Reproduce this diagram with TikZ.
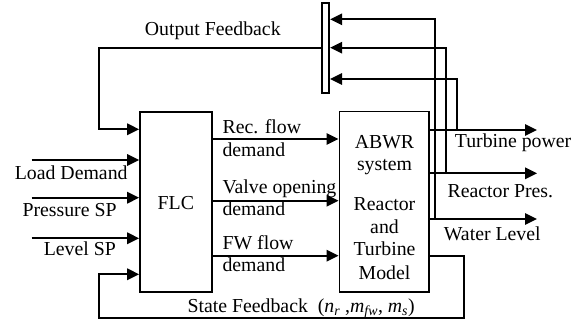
\documentclass[tikz,border=0pt]{standalone}
\usepackage{fontspec}
\setmainfont{Liberation Serif}
\usetikzlibrary{arrows.meta}
\begin{document}
\begin{tikzpicture}[x=1pt,y=-1pt,line width=1.7pt,
  blk/.style={draw,inner sep=0pt},
  arr/.style={-{Triangle[length=12pt,width=11.5pt]}},
  lbl/.style={inner sep=0pt,anchor=base west,font=\fontsize{19.8}{23.8}\selectfont},
  ctr/.style={inner sep=0pt,anchor=base,font=\fontsize{19.8}{23.8}\selectfont}]
\useasboundingbox (0,0) rectangle (576,323);
% blocks
\node[blk,minimum width=72pt,minimum height=180pt] (flc) at (176,201.7) {};
\node[blk,minimum width=89.7pt,minimum height=180.3pt] (abwr) at (384.2,201.8) {};
\node[blk,minimum width=7.6pt,minimum height=90pt] (mux) at (325.5,47.7) {};
% block texts
\node[ctr] (flct) at (175.8,209.5) {FLC};
\node[ctr] (a1) at (384.5,149) {ABWR};
\node[ctr] (a2) at (384.5,170.7) {system};
\node[ctr] (a3) at (384.5,211) {Reactor};
\node[ctr] (a4) at (384.5,233.3) {and};
\node[ctr] (a5) at (384.5,256) {Turbine};
\node[ctr] (a6) at (384.5,279.3) {Model};
% labels
\node[lbl] (lof) at (144,36) {Output Feedback};
\node[lbl] (lld) at (14,179.3) {Load Demand};
\node[lbl] (lps) at (21.7,216.7) {Pressure SP};
\node[lbl] (lls) at (43,256) {Level SP};
\node[lbl] (lr1) at (221.7,134) {Rec. flow};
\node[lbl] (lr2) at (221.7,156.7) {demand};
\node[lbl] (lv1) at (221.7,193.3) {Valve opening};
\node[lbl] (lv2) at (221.7,216) {demand};
\node[lbl] (lf1) at (221.7,249.3) {FW flow};
\node[lbl] (lf2) at (221.7,271.7) {demand};
\node[lbl] (ltp) at (454,147.3) {Turbine power};
\node[lbl] (lrp) at (446.7,197.3) {Reactor Pres.};
\node[lbl] (lwl) at (443,240.7) {Water Level};
\node[lbl] (lsf) at (186.7,312.5) {State Feedback\ \ (\textit{n\textsubscript{r}} ,\textit{m\textsubscript{fw}}, \textit{m\textsubscript{s}})};
% coordinates
\coordinate (in1) at (31.7,160);
\coordinate (in2) at (31.7,197.7);
\coordinate (in3) at (31.7,238.3);
\coordinate (y1) at (0,139);
\coordinate (y2) at (0,200.7);
\coordinate (y3) at (0,255.7);
\coordinate (of1) at (99,47.7);
\coordinate (of2) at (99,129.3);
\coordinate (tp) at (537,130);
\coordinate (rp) at (537,173.3);
\coordinate (wl) at (537,219);
\coordinate (f1) at (435,19.3);
\coordinate (f2) at (445.7,47.7);
\coordinate (f3) at (456.7,79);
\coordinate (s1) at (464.3,255.7);
\coordinate (s2) at (464.3,318.3);
\coordinate (s3) at (99.3,318.3);
\coordinate (s4) at (99.3,274.3);
% inputs
\draw[arr] (in1) -- (in1 -| flc.west);
\draw[arr] (in2) -- (in2 -| flc.west);
\draw[arr] (in3) -- (in3 -| flc.west);
% FLC to ABWR
\draw[arr] (flc.east |- y1) -- (abwr.west |- y1);
\draw[arr] (flc.east |- y2) -- (abwr.west |- y2);
\draw[arr] (flc.east |- y3) -- (abwr.west |- y3);
% outputs
\draw[arr] (abwr.east |- tp) -- (tp);
\draw[arr] (abwr.east |- rp) -- (rp);
\draw[arr] (abwr.east |- wl) -- (wl);
% taps to mux
\draw[arr] (f3 |- tp) -- (f3) -- (f3 -| mux.east);
\draw[arr] (f2 |- rp) -- (f2) -- (f2 -| mux.east);
\draw[arr] (f1 |- wl) -- (f1) -- (f1 -| mux.east);
% output feedback
\draw[arr] (mux.west |- of1) -- (of1) -- (of2) -- (of2 -| flc.west);
% state feedback
\draw[arr] (s1 -| abwr.east) -- (s1) -- (s2) -- (s3) -- (s4) -- (s4 -| flc.west);
\end{tikzpicture}
\end{document}
